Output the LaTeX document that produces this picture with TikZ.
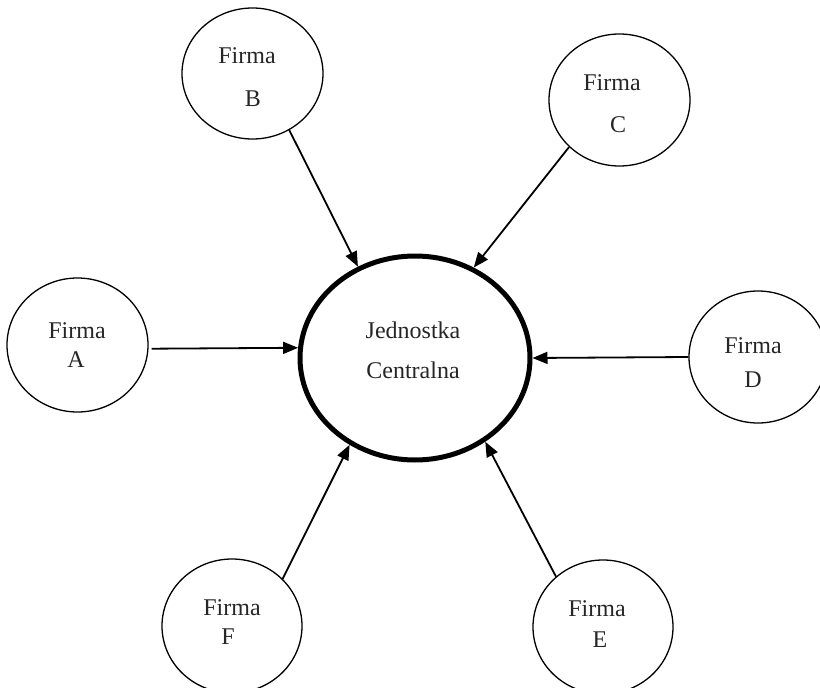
\documentclass[tikz,border=0pt]{standalone}
\usepackage{fontspec}
\setmainfont{Liberation Serif}
\usetikzlibrary{shapes.geometric,arrows.meta}
\begin{document}
\begin{tikzpicture}[x=1pt,y=-1pt,
  firm/.style={ellipse,draw,line width=1.3pt,inner sep=0pt},
  hub/.style={ellipse,draw,line width=5pt,inner sep=0pt,minimum width=230pt,minimum height=204pt},
  lbl/.style={anchor=base,inner sep=0pt,font=\fontsize{24}{28}\selectfont,text=black!85},
  link/.style={line width=1.8pt,-{Triangle[length=15pt,width=12pt]}}]
\useasboundingbox (0,0) rectangle (820,688);
\clip (0,0) rectangle (820,688);
% central unit
\node[hub] (J) at (415,358) {};
% firms
\node[firm,minimum width=141pt,minimum height=134pt] (A) at (77.5,345) {};
\node[firm,minimum width=141pt,minimum height=131pt] (B) at (252.5,73.5) {};
\node[firm,minimum width=141pt,minimum height=132pt] (C) at (619.5,100) {};
\node[firm,minimum width=138pt,minimum height=132pt] (D) at (758,357) {};
\node[firm,minimum width=140pt,minimum height=134pt] (E) at (603,627) {};
\node[firm,minimum width=140pt,minimum height=134pt] (F) at (232,626) {};
% texts
\node[lbl] (tJ1) at (413,338) {Jednostka};
\node[lbl] (tJ2) at (413,378) {Centralna};
\node[lbl] (tA1) at (77,338) {Firma};
\node[lbl] (tA2) at (76,367) {A};
\node[lbl] (tB1) at (247,63) {Firma};
\node[lbl] (tB2) at (253,106) {B};
\node[lbl] (tC1) at (612,90) {Firma};
\node[lbl] (tC2) at (618,132) {C};
\node[lbl] (tD1) at (753,353) {Firma};
\node[lbl] (tD2) at (753,387) {D};
\node[lbl] (tE1) at (597,616) {Firma};
\node[lbl] (tE2) at (600,647) {E};
\node[lbl] (tF1) at (232,615) {Firma};
\node[lbl] (tF2) at (228,644) {F};
% connectors
\draw[link,shorten <=3pt] (A.-3) -- (J.175.6);
\draw[link] (B.-57) -- (J.122.4);
\draw[link] (C.223.5) -- (J.57.9);
\draw[link] (D.180) -- (J.0);
\draw[link] (E.133.3) -- (J.-50.5);
\draw[link] (F.43.9) -- (J.233.8);
\end{tikzpicture}
\end{document}
